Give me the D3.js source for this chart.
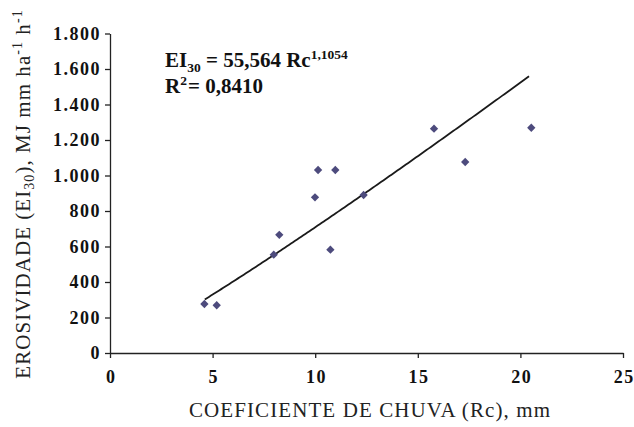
<!DOCTYPE html>
<html>
<head>
<meta charset="utf-8">
<script src="https://cdn.jsdelivr.net/npm/d3@7"></script>
<style>
  html, body { margin: 0; padding: 0; background: #fff; }
  svg text { font-family: "Liberation Serif", "Times New Roman", serif; }
</style>
</head>
<body>
<div id="chart"></div>
<script>
// Rc (mm) vs EI30 (MJ mm ha-1 h-1)
const rc = [4.6, 5.2, 7.98, 8.25, 9.99, 10.14, 10.98, 10.74, 12.36, 15.79, 17.31, 20.53];
const ei30 = [276, 269, 554, 666, 877, 1031, 1031, 582, 890, 1264, 1076, 1269];
const xTicks = [0, 5, 10, 15, 20, 25];
const yTicks = [0, 200, 400, 600, 800, 1000, 1200, 1400, 1600, 1800];
// power trendline EI30 = a * Rc^b
const trendA = 55.564, trendB = 1.1054;
const trendRange = [4.62, 20.5];

const [width, height] = [634, 427];
const margin = { top: 33.5, right: 11, bottom: 74, left: 110 };

const svg = d3.select('#chart').append('svg')
    .attr('width', width)
    .attr('height', height);

const x = d3.scaleLinear().domain([0, 25]).range([margin.left, width - margin.right]);
const y = d3.scaleLinear().domain([0, 1800]).range([height - margin.bottom, margin.top]);

const fmt = d => d3.format(',')(d).replace(/,/g, '.');

// axes
const xAxis = svg.append('g')
    .attr('transform', `translate(0,${y(0)})`)
    .call(d3.axisBottom(x).tickValues(xTicks).tickSize(5).tickSizeOuter(0).tickPadding(12));
const yAxis = svg.append('g')
    .attr('transform', `translate(${x(0)},0)`)
    .call(d3.axisLeft(y).tickValues(yTicks).tickSize(5).tickSizeOuter(0).tickPadding(4).tickFormat(fmt));

[xAxis, yAxis].forEach(g => {
    g.select('.domain').attr('stroke', '#222').attr('stroke-width', 1.3);
    g.selectAll('.tick line').attr('stroke', '#222').attr('stroke-width', 1.3);
    g.selectAll('.tick text')
        .attr('fill', '#111')
        .attr('font-size', 18)
        .attr('font-weight', 'bold')
        .attr('letter-spacing', 1.5)
        .style('font-family', '"Liberation Serif", serif');
});
// keep x labels centred on their ticks despite the letter spacing
xAxis.selectAll('.tick text').attr('dx', 0.75);

// trendline
const line = d3.line().x(d => x(d)).y(d => y(trendA * Math.pow(d, trendB)));
svg.append('path')
    .datum(d3.range(trendRange[0], trendRange[1] + 0.001, 0.1))
    .attr('d', line)
    .attr('fill', 'none')
    .attr('stroke', '#1a1a1a')
    .attr('stroke-width', 1.8);

// points (diamonds)
svg.append('g').selectAll('path')
    .data(rc.map((d, i) => [d, ei30[i]]))
    .enter()
    .append('path')
    .attr('d', d3.symbol().type(d3.symbolDiamond2).size(44))
    .attr('transform', d => `translate(${x(d[0])},${y(d[1])})`)
    .attr('fill', '#4d4b7d');

// equation
const eq = svg.append('text')
    .attr('x', 165).attr('y', 67)
    .attr('font-size', 21).attr('font-weight', 'bold').attr('fill', '#111');
eq.append('tspan').text('EI');
eq.append('tspan').text('30').attr('font-size', 13.5).attr('dy', 5);
eq.append('tspan').text(' = 55,564 Rc').attr('dy', -5);
eq.append('tspan').text('1,1054').attr('font-size', 13.5).attr('dy', -8);

const r2 = svg.append('text')
    .attr('x', 165).attr('y', 93)
    .attr('font-size', 21).attr('font-weight', 'bold').attr('fill', '#111');
r2.append('tspan').text('R');
r2.append('tspan').text('2').attr('font-size', 13.5).attr('dy', -8);
r2.append('tspan').text('= 0,8410').attr('dy', 8).attr('dx', 1);

// axis titles
svg.append('text')
    .attr('x', 370).attr('y', 417)
    .attr('text-anchor', 'middle')
    .attr('font-size', 21)
    .attr('letter-spacing', 1.1)
    .attr('fill', '#222')
    .text('COEFICIENTE DE CHUVA (Rc), mm');

const yt = svg.append('text')
    .attr('transform', 'translate(30,194) rotate(-90)')
    .attr('text-anchor', 'middle')
    .attr('font-size', 21)
    .attr('letter-spacing', 1.05)
    .attr('fill', '#222');
yt.append('tspan').text('EROSIVIDADE (EI');
yt.append('tspan').text('30').attr('font-size', 14).attr('dy', 4);
yt.append('tspan').text('), MJ mm ha').attr('dy', -4);
yt.append('tspan').text('-1').attr('font-size', 14).attr('dy', -8);
yt.append('tspan').text(' h').attr('dy', 8);
yt.append('tspan').text('-1').attr('font-size', 14).attr('dy', -8);
</script>
</body>
</html>
